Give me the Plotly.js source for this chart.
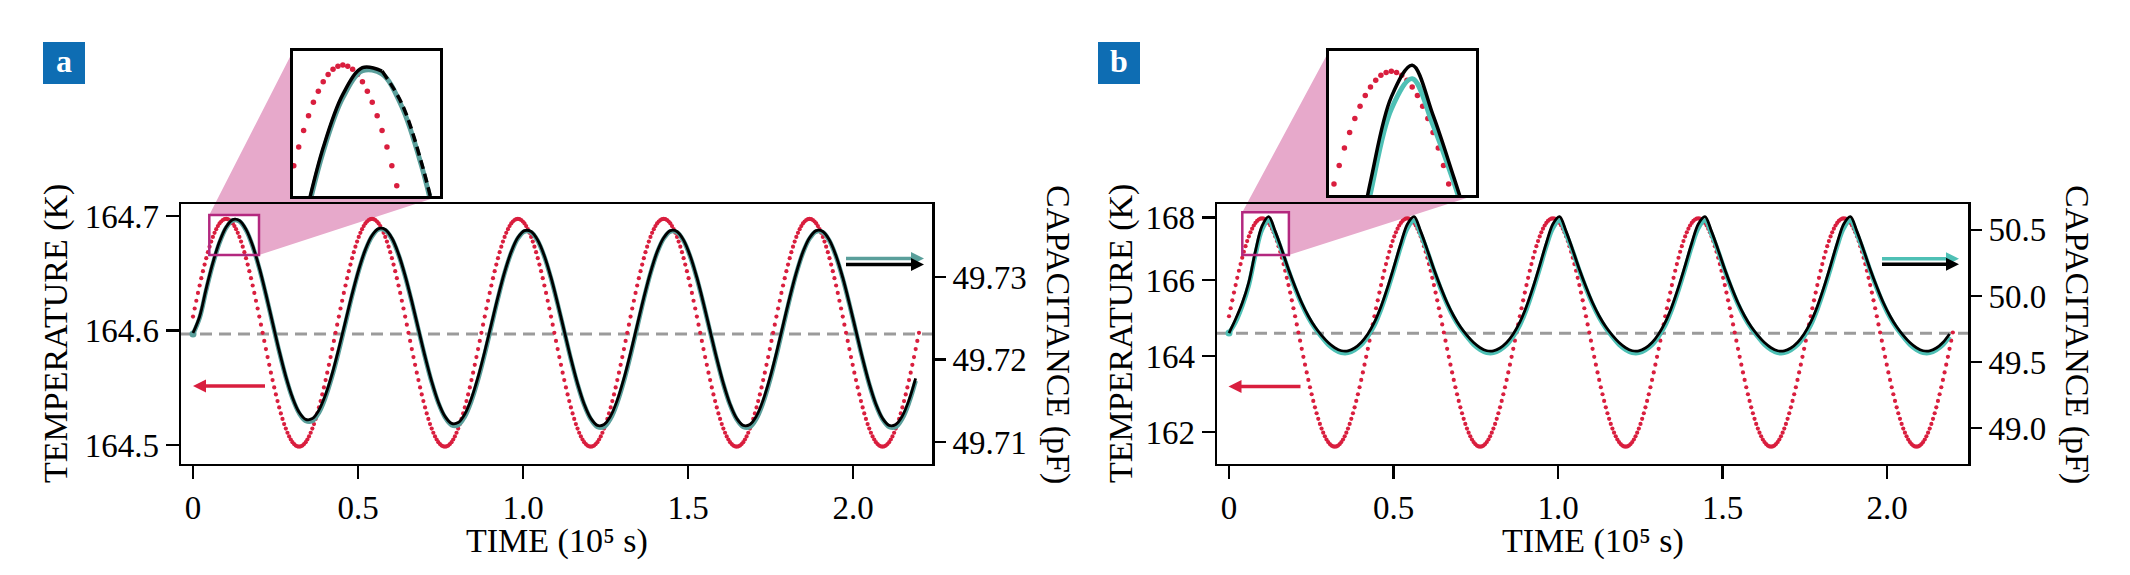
<!DOCTYPE html>
<html>
<head>
<meta charset="utf-8">
<script src="https://cdn.plot.ly/plotly-3.0.1.min.js"></script>
<style>html,body{margin:0;padding:0;background:#fff}#chart{width:2130px;height:575px}</style>
</head>
<body>
<div id="chart"></div>
<script>
// ---------------- DATA ----------------
// sampling interval of the series, in units of 1e5 s
const TEMP_DT = 0.0050227;  // temperature (red dots)
const CAP_DT  = 0.02009;    // capacitance (black / teal)

// panel a : temperature (K)
const tempA = [164.6122,164.6192,164.6260,164.6328,164.6393,164.6457,164.6518,164.6576,164.6632,164.6684,164.6732,164.6777,164.6817,164.6853,164.6885,164.6912,164.6935,164.6952,164.6965,164.6972,
164.6975,164.6972,164.6965,164.6952,164.6935,164.6912,164.6885,164.6853,164.6817,164.6777,164.6732,164.6684,164.6632,164.6576,164.6518,164.6457,164.6393,164.6328,164.6260,164.6192,164.6122,164.6051,164.5980,164.5909,164.5838,164.5768,164.5700,164.5632,164.5567,164.5503,164.5442,164.5384,164.5328,164.5276,164.5228,164.5183,164.5143,164.5107,164.5075,164.5048,164.5025,164.5008,164.4995,164.4988,164.4985,164.4988,164.4995,164.5008,164.5025,164.5048,164.5075,164.5107,164.5143,164.5183,164.5228,164.5276,164.5328,164.5384,164.5442,164.5503,164.5567,164.5632,164.5700,164.5768,164.5838,164.5909,164.5980,164.6051,164.6122,164.6192,164.6260,164.6328,164.6393,164.6457,164.6518,164.6576,164.6632,164.6684,164.6732,164.6777,164.6817,164.6853,164.6885,164.6912,164.6935,164.6952,164.6965,164.6972,
164.6975,164.6972,164.6965,164.6952,164.6935,164.6912,164.6885,164.6853,164.6817,164.6777,164.6732,164.6684,164.6632,164.6576,164.6518,164.6457,164.6393,164.6328,164.6260,164.6192,164.6122,164.6051,164.5980,164.5909,164.5838,164.5768,164.5700,164.5632,164.5567,164.5503,164.5442,164.5384,164.5328,164.5276,164.5228,164.5183,164.5143,164.5107,164.5075,164.5048,164.5025,164.5008,164.4995,164.4988,164.4985,164.4988,164.4995,164.5008,164.5025,164.5048,164.5075,164.5107,164.5143,164.5183,164.5228,164.5276,164.5328,164.5384,164.5442,164.5503,164.5567,164.5632,164.5700,164.5768,164.5838,164.5909,164.5980,164.6051,164.6122,164.6192,164.6260,164.6328,164.6393,164.6457,164.6518,164.6576,164.6632,164.6684,164.6732,164.6777,164.6817,164.6853,164.6885,164.6912,164.6935,164.6952,164.6965,164.6972,
164.6975,164.6972,164.6965,164.6952,164.6935,164.6912,164.6885,164.6853,164.6817,164.6777,164.6732,164.6684,164.6632,164.6576,164.6518,164.6457,164.6393,164.6328,164.6260,164.6192,164.6122,164.6051,164.5980,164.5909,164.5838,164.5768,164.5700,164.5632,164.5567,164.5503,164.5442,164.5384,164.5328,164.5276,164.5228,164.5183,164.5143,164.5107,164.5075,164.5048,164.5025,164.5008,164.4995,164.4988,164.4985,164.4988,164.4995,164.5008,164.5025,164.5048,164.5075,164.5107,164.5143,164.5183,164.5228,164.5276,164.5328,164.5384,164.5442,164.5503,164.5567,164.5632,164.5700,164.5768,164.5838,164.5909,164.5980,164.6051,164.6122,164.6192,164.6260,164.6328,164.6393,164.6457,164.6518,164.6576,164.6632,164.6684,164.6732,164.6777,164.6817,164.6853,164.6885,164.6912,164.6935,164.6952,164.6965,164.6972,
164.6975,164.6972,164.6965,164.6952,164.6935,164.6912,164.6885,164.6853,164.6817,164.6777,164.6732,164.6684,164.6632,164.6576,164.6518,164.6457,164.6393,164.6328,164.6260,164.6192,164.6122,164.6051,164.5980,164.5909,164.5838,164.5768,164.5700,164.5632,164.5567,164.5503,164.5442,164.5384,164.5328,164.5276,164.5228,164.5183,164.5143,164.5107,164.5075,164.5048,164.5025,164.5008,164.4995,164.4988,164.4985,164.4988,164.4995,164.5008,164.5025,164.5048,164.5075,164.5107,164.5143,164.5183,164.5228,164.5276,164.5328,164.5384,164.5442,164.5503,164.5567,164.5632,164.5700,164.5768,164.5838,164.5909,164.5980,164.6051,164.6122,164.6192,164.6260,164.6328,164.6393,164.6457,164.6518,164.6576,164.6632,164.6684,164.6732,164.6777,164.6817,164.6853,164.6885,164.6912,164.6935,164.6952,164.6965,164.6972,
164.6975,164.6972,164.6965,164.6952,164.6935,164.6912,164.6885,164.6853,164.6817,164.6777,164.6732,164.6684,164.6632,164.6576,164.6518,164.6457,164.6393,164.6328,164.6260,164.6192,164.6122,164.6051,164.5980,164.5909,164.5838,164.5768,164.5700,164.5632,164.5567,164.5503,164.5442,164.5384,164.5328,164.5276,164.5228,164.5183,164.5143,164.5107,164.5075,164.5048,164.5025,164.5008,164.4995,164.4988,164.4985,164.4988,164.4995,164.5008,164.5025,164.5048,164.5075,164.5107,164.5143,164.5183,164.5228,164.5276,164.5328,164.5384,164.5442,164.5503,164.5567,164.5632,164.5700,164.5768,164.5838,164.5909,164.5980];

// panel a : capacitance (pF), measured (black) and model (teal)
const capBlackA = [49.72321,49.72521,49.72863,49.73173,49.73429,49.73607,49.73696,49.73685,
49.73577,49.73381,49.73113,49.72793,49.72448,49.72107,49.71796,49.71541,49.71362,49.71274,
49.71284,49.71387,49.71575,49.71830,49.72136,49.72465,49.72792,49.73088,49.73332,49.73503,49.73587,
49.73576,49.73472,49.73280,49.73018,49.72707,49.72371,49.72038,49.71735,49.71485,49.71312,49.71225,
49.71235,49.71339,49.71529,49.71788,49.72097,49.72429,49.72759,49.73059,49.73305,49.73478,49.73562,
49.73552,49.73447,49.73256,49.72994,49.72682,49.72347,49.72013,49.71710,49.71461,49.71287,49.71201,49.71212,49.71316,49.71508,49.71770,
49.72081,49.72417,49.72750,49.73053,49.73303,49.73476,49.73562,49.73552,49.73447,49.73256,49.72994,49.72682,49.72347,49.72013,49.71710,49.71461,49.71287,49.71201,49.71212,49.71316,49.71508,49.71770,
49.72081,49.72417,49.72750,49.73053,49.73303,49.73476,49.73562,49.73552,49.73447,49.73256,49.72994,49.72682,49.72347,49.72013,49.71710,49.71461,49.71287,49.71201,49.71212,49.71316,49.71508,49.71770];

const capTealA = [49.72309,49.72505,49.72845,49.73158,49.73416,49.73596,49.73686,49.73675,
49.73567,49.73371,49.73103,49.72783,49.72438,49.72097,49.71786,49.71531,49.71350,49.71255,
49.71254,49.71357,49.71545,49.71800,49.72106,49.72440,49.72775,49.73078,49.73322,49.73493,49.73577,
49.73566,49.73462,49.73270,49.73008,49.72697,49.72361,49.72028,49.71725,49.71475,49.71300,49.71205,
49.71205,49.71309,49.71499,49.71758,49.72067,49.72404,49.72742,49.73049,49.73295,49.73468,49.73552,
49.73542,49.73437,49.73246,49.72984,49.72672,49.72337,49.72003,49.71700,49.71451,49.71275,49.71182,49.71182,49.71286,49.71478,49.71740,
49.72051,49.72392,49.72733,49.73043,49.73293,49.73466,49.73552,49.73542,49.73437,49.73246,49.72984,49.72672,49.72337,49.72003,49.71700,49.71451,49.71275,49.71182,49.71182,49.71286,49.71478,49.71740,
49.72051,49.72392,49.72733,49.73043,49.73293,49.73466,49.73552,49.73542,49.73437,49.73246,49.72984,49.72672,49.72337,49.72003,49.71700,49.71451,49.71275,49.71182,49.71182,49.71286,49.71478,49.71740];

// panel b : temperature (K)
const tempB = [165.046,165.257,165.465,165.668,165.866,166.058,166.243,166.419,166.586,166.743,166.889,167.024,167.146,167.255,167.351,167.434,167.501,167.554,167.592,167.615,
167.623,167.615,167.592,167.554,167.501,167.434,167.351,167.255,167.146,167.024,166.889,166.743,166.586,166.419,166.243,166.058,165.866,165.668,165.465,165.257,165.046,164.832,164.618,164.404,164.190,163.979,163.771,163.568,163.370,163.178,162.993,162.817,162.650,162.493,162.347,162.212,162.090,161.981,161.885,161.802,161.735,161.682,161.644,161.621,161.613,161.621,161.644,161.682,161.735,161.802,161.885,161.981,162.090,162.212,162.347,162.493,162.650,162.817,162.993,163.178,163.370,163.568,163.771,163.979,164.190,164.404,164.618,164.832,165.046,165.257,165.465,165.668,165.866,166.058,166.243,166.419,166.586,166.743,166.889,167.024,167.146,167.255,167.351,167.434,167.501,167.554,167.592,167.615,
167.623,167.615,167.592,167.554,167.501,167.434,167.351,167.255,167.146,167.024,166.889,166.743,166.586,166.419,166.243,166.058,165.866,165.668,165.465,165.257,165.046,164.832,164.618,164.404,164.190,163.979,163.771,163.568,163.370,163.178,162.993,162.817,162.650,162.493,162.347,162.212,162.090,161.981,161.885,161.802,161.735,161.682,161.644,161.621,161.613,161.621,161.644,161.682,161.735,161.802,161.885,161.981,162.090,162.212,162.347,162.493,162.650,162.817,162.993,163.178,163.370,163.568,163.771,163.979,164.190,164.404,164.618,164.832,165.046,165.257,165.465,165.668,165.866,166.058,166.243,166.419,166.586,166.743,166.889,167.024,167.146,167.255,167.351,167.434,167.501,167.554,167.592,167.615,
167.623,167.615,167.592,167.554,167.501,167.434,167.351,167.255,167.146,167.024,166.889,166.743,166.586,166.419,166.243,166.058,165.866,165.668,165.465,165.257,165.046,164.832,164.618,164.404,164.190,163.979,163.771,163.568,163.370,163.178,162.993,162.817,162.650,162.493,162.347,162.212,162.090,161.981,161.885,161.802,161.735,161.682,161.644,161.621,161.613,161.621,161.644,161.682,161.735,161.802,161.885,161.981,162.090,162.212,162.347,162.493,162.650,162.817,162.993,163.178,163.370,163.568,163.771,163.979,164.190,164.404,164.618,164.832,165.046,165.257,165.465,165.668,165.866,166.058,166.243,166.419,166.586,166.743,166.889,167.024,167.146,167.255,167.351,167.434,167.501,167.554,167.592,167.615,
167.623,167.615,167.592,167.554,167.501,167.434,167.351,167.255,167.146,167.024,166.889,166.743,166.586,166.419,166.243,166.058,165.866,165.668,165.465,165.257,165.046,164.832,164.618,164.404,164.190,163.979,163.771,163.568,163.370,163.178,162.993,162.817,162.650,162.493,162.347,162.212,162.090,161.981,161.885,161.802,161.735,161.682,161.644,161.621,161.613,161.621,161.644,161.682,161.735,161.802,161.885,161.981,162.090,162.212,162.347,162.493,162.650,162.817,162.993,163.178,163.370,163.568,163.771,163.979,164.190,164.404,164.618,164.832,165.046,165.257,165.465,165.668,165.866,166.058,166.243,166.419,166.586,166.743,166.889,167.024,167.146,167.255,167.351,167.434,167.501,167.554,167.592,167.615,
167.623,167.615,167.592,167.554,167.501,167.434,167.351,167.255,167.146,167.024,166.889,166.743,166.586,166.419,166.243,166.058,165.866,165.668,165.465,165.257,165.046,164.832,164.618,164.404,164.190,163.979,163.771,163.568,163.370,163.178,162.993,162.817,162.650,162.493,162.347,162.212,162.090,161.981,161.885,161.802,161.735,161.682,161.644,161.621,161.613,161.621,161.644,161.682,161.735,161.802,161.885,161.981,162.090,162.212,162.347,162.493,162.650,162.817,162.993,163.178,163.370,163.568,163.771,163.979,164.190,164.404,164.618];

// panel b : capacitance (pF)
const capBlackB = [49.720,49.826,49.947,50.106,50.340,50.530,
50.601,50.489,50.349,50.203,50.070,49.949,49.849,49.767,49.702,49.648,49.609,49.586,49.585,49.607,49.649,49.713,49.802,49.921,50.067,50.230,50.399,50.545,
50.601,50.489,50.349,50.203,50.070,49.949,49.849,49.767,49.702,49.648,49.609,49.586,49.585,49.607,49.649,49.713,49.802,49.921,50.067,50.230,50.399,50.545,
50.601,50.489,50.349,50.203,50.070,49.949,49.849,49.767,49.702,49.648,49.609,49.586,49.585,49.607,49.649,49.713,49.802,49.921,50.067,50.230,50.399,50.545,
50.601,50.489,50.349,50.203,50.070,49.949,49.849,49.767,49.702,49.648,49.609,49.586,49.585,49.607,49.649,49.713,49.802,49.921,50.067,50.230,50.399,50.545,
50.601,50.489,50.349,50.203,50.070,49.949,49.849,49.767,49.702,49.648,49.609,49.586,49.585,49.607,49.649,49.713];

const capTealB = [49.720,49.803,49.924,50.083,50.314,50.503,
50.571,50.467,50.338,50.192,50.058,49.938,49.837,49.756,49.691,49.633,49.594,49.571,49.570,49.592,49.630,49.694,49.779,49.899,50.045,50.207,50.376,50.514,
50.571,50.467,50.338,50.192,50.058,49.938,49.837,49.756,49.691,49.633,49.594,49.571,49.570,49.592,49.630,49.694,49.779,49.899,50.045,50.207,50.376,50.514,
50.571,50.467,50.338,50.192,50.058,49.938,49.837,49.756,49.691,49.633,49.594,49.571,49.570,49.592,49.630,49.694,49.779,49.899,50.045,50.207,50.376,50.514,
50.571,50.467,50.338,50.192,50.058,49.938,49.837,49.756,49.691,49.633,49.594,49.571,49.570,49.592,49.630,49.694,49.779,49.899,50.045,50.207,50.376,50.514,
50.571,50.467,50.338,50.192,50.058,49.938,49.837,49.756,49.691,49.633,49.594,49.571,49.570,49.592,49.630,49.694];

// reference (mean) temperature marked by the dashed line
const meanTemp = 164.597;

// tick values / labels
const timeTicks = [0, 0.5, 1.0, 1.5, 2.0];
const timeTickText = ['0', '0.5', '1.0', '1.5', '2.0'];
const tempTicksA = [164.5, 164.6, 164.7];
const tempTickTextA = ['164.5', '164.6', '164.7'];
const capTicksA = [49.71, 49.72, 49.73];
const capTickTextA = ['49.71', '49.72', '49.73'];
const tempTicksB = [162, 164, 166, 167.65];
const tempTickTextB = ['162', '164', '166', '168'];
const capTicksB = [49.0, 49.5, 50.0, 50.5];
const capTickTextB = ['49.0', '49.5', '50.0', '50.5'];

// ---------------- STYLE / GEOMETRY ----------------
const W = 2130, H = 575;
const fx = p => p / W;
const fy = p => 1 - p / H;
const RED = '#d91e3e', TEAL_A = '#5a9f9b', TEAL_B = '#4ec0b5', PINK = '#e7a9cb',
      MAGENTA = '#b3287f', BLUE = '#0e6db3', GREY = '#9b9b9b';
const FONT = 'Liberation Serif, Times New Roman, serif';

const timeT = tempA.map((_, i) => +(i * TEMP_DT).toFixed(5));
const timeC = capBlackA.map((_, i) => +(i * CAP_DT).toFixed(5));

const dom = {
  ax: [fx(181), fx(932)], bx: [fx(1217), fx(1968)], y: [fy(463.5), fy(204)],
  iax: [fx(293), fx(440)], iay: [fy(196), fy(51)],
  ibx: [fx(1329), fx(1476)], iby: [fy(195), fy(51)]
};
const rng = {
  ax: [-0.03636, 2.2394], bx: [-0.0365, 2.246],
  tA: [164.48384, 164.71048], cA: [49.70739, 49.73885],
  tB: [161.171, 168.0], cB: [48.733, 50.696],
  // zoomed windows shown in the insets
  iax: [0.0494, 0.2], itA: [164.6659, 164.7009], icA: [49.73267, 49.73752],
  ibx: [0.0404, 0.182], itB: [166.658, 167.782], icB: [50.310, 50.633]
};

const tfont = {family: FONT, size: 33, color: '#000'};
function mainAx(extra) {
  return Object.assign({showgrid: false, zeroline: false, showline: true, linecolor: '#000',
    linewidth: 2.5, mirror: true, ticks: 'outside', ticklen: 13, tickwidth: 2.5, tickcolor: '#000',
    tickfont: tfont, tickmode: 'array', fixedrange: true}, extra);
}
function rightAx(extra) {
  return Object.assign({showgrid: false, zeroline: false, showline: false, side: 'right',
    ticks: 'outside', ticklen: 13, tickwidth: 2.5, tickcolor: '#000', tickfont: tfont,
    tickmode: 'array', fixedrange: true}, extra);
}
function insetAx(extra) {
  return Object.assign({showgrid: false, zeroline: false, showline: true, linecolor: '#000',
    linewidth: 3, mirror: true, ticks: '', showticklabels: false, fixedrange: true}, extra);
}
function insetRightAx(extra) {
  return Object.assign({showgrid: false, zeroline: false, showline: false, ticks: '',
    showticklabels: false, side: 'right', fixedrange: true}, extra);
}

// ---------------- TRACES ----------------
const traces = [];
function addPanel(xa, ytemp, ycap, temp, capB, capT, teal, inset) {
  const lw = inset ? 3.5 : 2.8;
  traces.push({x: timeC, y: capT, xaxis: xa, yaxis: ycap, mode: 'lines',
    line: {color: teal, width: inset ? 5 : 4.6, shape: 'spline'}, hoverinfo: 'skip'});
  if (!inset) {
    traces.push({x: [timeC[0]], y: [capT[0]], xaxis: xa, yaxis: ycap, mode: 'markers',
      marker: {color: teal, size: 7}, hoverinfo: 'skip'});
  }
  if (inset === 'dashed') {
    const idxL = timeC.map((t, i) => i).filter(i => timeC[i] <= 0.141);
    const idxR = timeC.map((t, i) => i).filter(i => timeC[i] >= 0.14);
    traces.push({x: idxL.map(i => timeC[i]), y: idxL.map(i => capB[i]), xaxis: xa, yaxis: ycap,
      mode: 'lines', line: {color: '#000', width: lw, shape: 'spline'}, hoverinfo: 'skip'});
    traces.push({x: idxR.map(i => timeC[i]), y: idxR.map(i => capB[i]), xaxis: xa, yaxis: ycap,
      mode: 'lines', line: {color: '#000', width: lw, shape: 'spline', dash: '9px,5px'}, hoverinfo: 'skip'});
  } else {
    traces.push({x: timeC, y: capB, xaxis: xa, yaxis: ycap, mode: 'lines',
      line: {color: '#000', width: lw, shape: 'spline'}, hoverinfo: 'skip'});
  }
  traces.push({x: timeT, y: temp, xaxis: xa, yaxis: ytemp, mode: 'markers',
    marker: {color: RED, size: inset ? 5.5 : 4.2, line: {width: 0}}, hoverinfo: 'skip'});
}
addPanel('x', 'y', 'y2', tempA, capBlackA, capTealA, TEAL_A, false);
addPanel('x2', 'y3', 'y4', tempB, capBlackB, capTealB, TEAL_B, false);
addPanel('x3', 'y5', 'y6', tempA, capBlackA, capTealA, TEAL_A, 'dashed');
addPanel('x4', 'y7', 'y8', tempB, capBlackB, capTealB, TEAL_B, 'solid');

// ---------------- SHAPES ----------------
const toPX = (v, d, r) => d[0] + (v - r[0]) / (r[1] - r[0]) * (d[1] - d[0]);
function connector(xd, xr, yd, yr, zx, zy, ixd, iyd) {
  const A = [toPX(zx[0], xd, xr), toPX(zy[1], yd, yr)];
  const F = [toPX(zx[1], xd, xr), toPX(zy[1], yd, yr)];
  const E = [toPX(zx[1], xd, xr), toPX(zy[0], yd, yr)];
  const B = [ixd[0], iyd[1]], C = [ixd[0], iyd[0]], D = [ixd[1], iyd[0]];
  const p = [A, B, C, D, E, F].map(q => q[0].toFixed(5) + ',' + q[1].toFixed(5));
  return {type: 'path', xref: 'paper', yref: 'paper', layer: 'below',
    path: 'M' + p.join('L') + 'Z', fillcolor: PINK, line: {width: 0}};
}
// arrow drawn as a shaft plus a filled triangular head (pixel geometry -> paper)
function arrow(xTip, yTip, length, color) {
  const dir = Math.sign(length), L = Math.abs(length), head = 13, half = 6.5;
  const xBase = xTip + dir * head;
  const pt = (x, y) => fx(x).toFixed(5) + ',' + fy(y).toFixed(5);
  return [
    {type: 'line', xref: 'paper', yref: 'paper', x0: fx(xTip + dir * L), x1: fx(xBase - dir),
     y0: fy(yTip), y1: fy(yTip), line: {color: color, width: 3.5}, layer: 'above'},
    {type: 'path', xref: 'paper', yref: 'paper', layer: 'above', line: {width: 0},
     fillcolor: color, path: 'M' + pt(xTip, yTip) + 'L' + pt(xBase, yTip - half) + 'L' + pt(xBase, yTip + half) + 'Z'}
  ];
}
const shapes = [
  connector(dom.ax, rng.ax, dom.y, rng.tA, rng.iax, rng.itA, dom.iax, dom.iay),
  connector(dom.bx, rng.bx, dom.y, rng.tB, rng.ibx, rng.itB, dom.ibx, dom.iby),
  {type: 'line', xref: 'x domain', yref: 'y', x0: 0, x1: 1, y0: meanTemp, y1: meanTemp,
   layer: 'below', line: {color: GREY, width: 3, dash: '12px,7px'}},
  {type: 'line', xref: 'x2 domain', yref: 'y3', x0: 0, x1: 1, y0: meanTemp, y1: meanTemp,
   layer: 'below', line: {color: GREY, width: 3, dash: '12px,7px'}},
  {type: 'rect', xref: 'x', yref: 'y', x0: rng.iax[0], x1: rng.iax[1], y0: rng.itA[0], y1: rng.itA[1],
   layer: 'above', line: {color: MAGENTA, width: 2.5}},
  {type: 'rect', xref: 'x2', yref: 'y3', x0: rng.ibx[0], x1: rng.ibx[1], y0: rng.itB[0], y1: rng.itB[1],
   layer: 'above', line: {color: MAGENTA, width: 2.5}},
  {type: 'rect', xref: 'paper', yref: 'paper', x0: fx(43), x1: fx(85), y0: fy(84), y1: fy(42),
   fillcolor: BLUE, line: {width: 0}, layer: 'above'},
  {type: 'rect', xref: 'paper', yref: 'paper', x0: fx(1098), x1: fx(1140), y0: fy(84), y1: fy(42),
   fillcolor: BLUE, line: {width: 0}, layer: 'above'}
].concat(
  arrow(193, 386, 72, RED),
  arrow(924, 258.5, -78, TEAL_A),
  arrow(924, 264.5, -78, '#000'),
  arrow(1228.5, 386.5, 72, RED),
  arrow(1959, 258.7, -77, TEAL_B),
  arrow(1959, 264.3, -77, '#000')
);

// ---------------- ANNOTATIONS ----------------
const afont = {family: FONT, size: 34, color: '#000'};
function txt(text, x, y, angle) {
  return {text: text, x: fx(x), y: fy(y), xref: 'paper', yref: 'paper', showarrow: false,
    textangle: angle || 0, xanchor: 'center', yanchor: 'middle', font: afont};
}
const labelFont = {family: FONT, size: 32, color: '#fff', weight: 'bold'};
const annotations = [
  txt('TEMPERATURE (K)', 56, 334, -90),
  txt('TEMPERATURE (K)', 1121, 334, -90),
  txt('CAPACITANCE (pF)', 1058, 334, 90),
  txt('CAPACITANCE (pF)', 2077, 334, 90),
  txt('TIME (10\u2075 s)', 556.5, 541),
  txt('TIME (10\u2075 s)', 1592.5, 541),
  {text: 'a', x: fx(64), y: fy(61), xref: 'paper', yref: 'paper', showarrow: false,
   xanchor: 'center', yanchor: 'middle', font: labelFont},
  {text: 'b', x: fx(1119), y: fy(61), xref: 'paper', yref: 'paper', showarrow: false,
   xanchor: 'center', yanchor: 'middle', font: labelFont}
];

const layout = {
  width: W, height: H, margin: {l: 0, r: 0, t: 0, b: 0},
  paper_bgcolor: '#fff', plot_bgcolor: '#fff', showlegend: false, hovermode: false,
  font: {family: FONT, color: '#000'},
  xaxis: mainAx({domain: dom.ax, range: rng.ax, anchor: 'y', tickvals: timeTicks, ticktext: timeTickText}),
  yaxis: mainAx({domain: dom.y, range: rng.tA, anchor: 'x', tickvals: tempTicksA, ticktext: tempTickTextA}),
  yaxis2: rightAx({overlaying: 'y', anchor: 'x', range: rng.cA, tickvals: capTicksA, ticktext: capTickTextA}),
  xaxis2: mainAx({domain: dom.bx, range: rng.bx, anchor: 'y3', tickvals: timeTicks, ticktext: timeTickText}),
  yaxis3: mainAx({domain: dom.y, range: rng.tB, anchor: 'x2', tickvals: tempTicksB, ticktext: tempTickTextB}),
  yaxis4: rightAx({overlaying: 'y3', anchor: 'x2', range: rng.cB, tickvals: capTicksB, ticktext: capTickTextB}),
  xaxis3: insetAx({domain: dom.iax, range: rng.iax, anchor: 'y5'}),
  yaxis5: insetAx({domain: dom.iay, range: rng.itA, anchor: 'x3'}),
  yaxis6: insetRightAx({overlaying: 'y5', anchor: 'x3', range: rng.icA}),
  xaxis4: insetAx({domain: dom.ibx, range: rng.ibx, anchor: 'y7'}),
  yaxis7: insetAx({domain: dom.iby, range: rng.itB, anchor: 'x4'}),
  yaxis8: insetRightAx({overlaying: 'y7', anchor: 'x4', range: rng.icB}),
  shapes: shapes,
  annotations: annotations
};

Plotly.newPlot('chart', traces, layout, {staticPlot: true, displayModeBar: false});
</script>
</body>
</html>
